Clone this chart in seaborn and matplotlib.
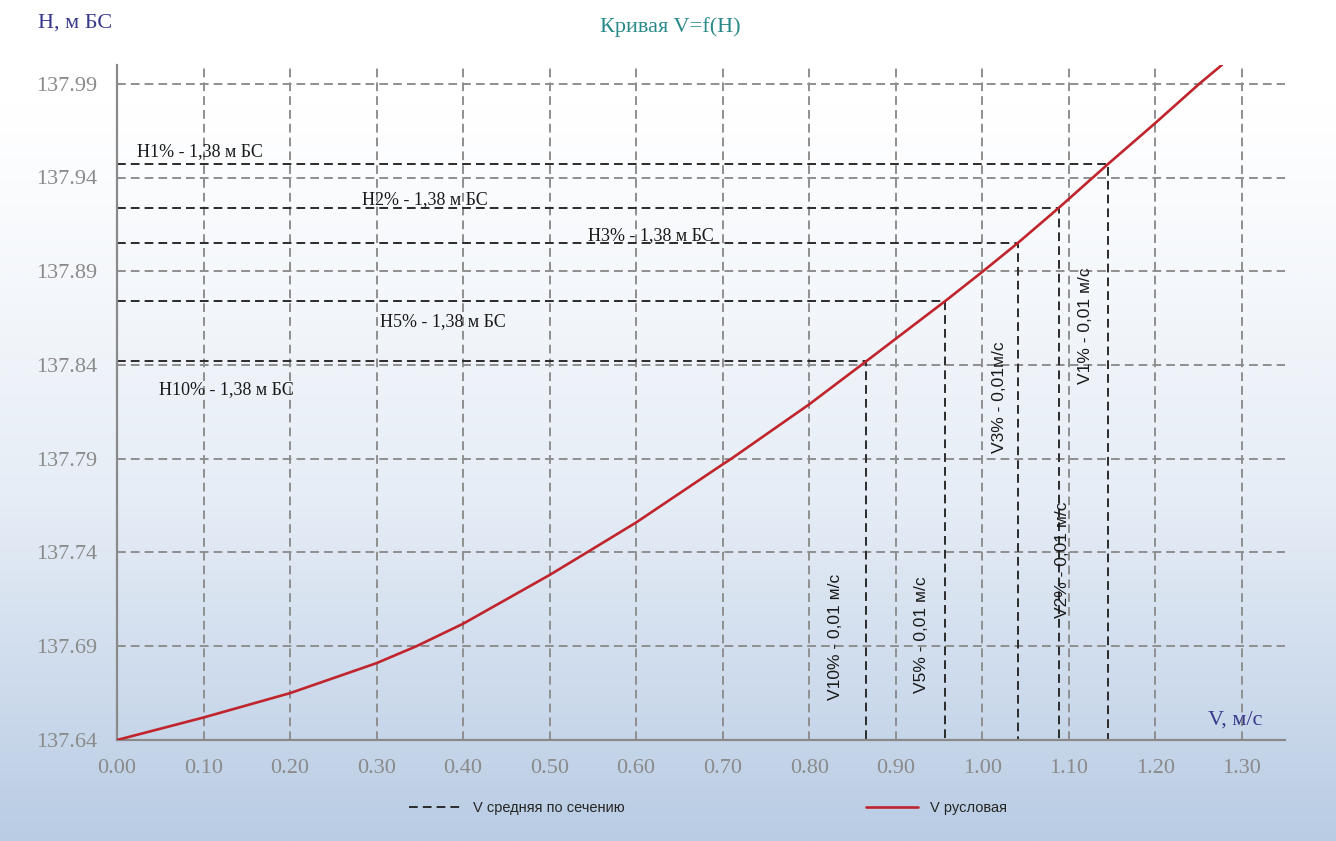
import numpy as np
import pandas as pd
import matplotlib
matplotlib.use("Agg")
import matplotlib.pyplot as plt
from matplotlib.colors import LinearSegmentedColormap
import seaborn as sns

# Rating curve: channel velocity V (m/s) against water level H (m BS)
v_channel = [0.000, 0.100, 0.200, 0.300, 0.346, 0.400, 0.500, 0.543, 0.600,
             0.700, 0.710, 0.800, 0.866, 0.957, 1.001, 1.041, 1.089, 1.145,
             1.200, 1.251, 1.277]
h_level = [137.640, 137.652, 137.665, 137.681, 137.690, 137.702, 137.728, 137.740,
           137.756, 137.787, 137.790, 137.819, 137.842, 137.874, 137.890, 137.905,
           137.924, 137.947, 137.969, 137.990, 138.000]

# Design flood levels and the matching mean velocities
probabilities = ["1%", "2%", "3%", "5%", "10%"]
h_design = [137.947, 137.924, 137.905, 137.874, 137.842]
v_design = [1.145, 1.089, 1.041, 0.957, 0.866]
h_captions = ["H1% - 1,38 м БС", "H2% - 1,38 м БС", "H3% - 1,38 м БС",
              "H5% - 1,38 м БС", "H10% - 1,38 м БС"]
v_captions = ["V1% - 0,01 м/с", "V2% - 0,01 м/с", "V3% - 0,01м/с",
              "V5% - 0,01 м/с", "V10% - 0,01 м/с"]

x_ticks = [0.00, 0.10, 0.20, 0.30, 0.40, 0.50, 0.60, 0.70, 0.80, 0.90,
           1.00, 1.10, 1.20, 1.30]
y_ticks = [137.64, 137.69, 137.74, 137.79, 137.84, 137.89, 137.94, 137.99]

# caption anchors (data coordinates)
h_cap_pos = [(0.023, 137.954), (0.283, 137.928), (0.544, 137.909),
             (0.304, 137.863), (0.048, 137.827)]
v_cap_pos = [(1.119, 137.861), (1.093, 137.736), (1.020, 137.823),
             (0.930, 137.696), (0.830, 137.695)]

sns.set_style("white")
plt.rcParams["font.family"] = ["Liberation Serif", "DejaVu Serif"]

W, H = 1336, 841
fig = plt.figure(figsize=(W / 100, H / 100), dpi=100)

# soft white-to-blue background
bg = fig.add_axes([0, 0, 1, 1], zorder=-10)
t = np.linspace(0, 1, 400)[:, None]
t = np.clip((t - 0.12) / 0.88, 0, 1) ** 1.1
cmap = LinearSegmentedColormap.from_list("bg", ["#ffffff", "#e6edf6", "#b9cce4"])
bg.imshow(t, aspect="auto", cmap=cmap, extent=[0, 1, 0, 1], vmin=0, vmax=1)
bg.set_axis_off()

ax = fig.add_axes([117 / W, 1 - 740 / H, (1285 - 117) / W, (740 - 65) / H])
ax.patch.set_alpha(0)

grid_kw = dict(color="#8f8f8f", lw=1.4, dashes=(4.5, 2.6), zorder=1)
for xv in x_ticks[1:]:
    ax.axvline(xv, **grid_kw)
for yv in y_ticks[1:]:
    ax.axhline(yv, **grid_kw)

# mean-velocity guides: from the H axis to the curve, then down to the V axis
guide_handle = None
for hv, vv in zip(h_design, v_design):
    seg = pd.DataFrame({"v": [0.0, vv, vv], "h": [hv, hv, y_ticks[0]]})
    sns.lineplot(data=seg, x="v", y="h", sort=False, estimator=None, ax=ax,
                 color="#2b2b2b", lw=1.4, zorder=2)
    ln = ax.lines[-1]
    ln.set_dashes((4.5, 2.6))
    if guide_handle is None:
        guide_handle = ln

curve = pd.DataFrame({"v": v_channel, "h": h_level})
sns.lineplot(data=curve, x="v", y="h", sort=False, estimator=None, ax=ax,
             color="#c0242c", lw=1.9, zorder=3)
curve_handle = ax.lines[-1]
curve_handle.set_solid_joinstyle("round")

ax.set_xlim(0, 1.35)
ax.set_ylim(137.64, 138.0)
ax.set_xticks(x_ticks)
ax.set_xticklabels([f"{v:.2f}" for v in x_ticks])
ax.set_yticks(y_ticks)
ax.set_yticklabels([f"{v:.2f}" for v in y_ticks])
ax.tick_params(length=0, labelsize=16, labelcolor="#8a8a8a", pad=14)
ax.set_xlabel("")
ax.set_ylabel("")
for side in ["top", "right"]:
    ax.spines[side].set_visible(False)
for side in ["left", "bottom"]:
    ax.spines[side].set_color("#8a8a8a")
    ax.spines[side].set_linewidth(1.6)

for txt, (x, y) in zip(h_captions, h_cap_pos):
    ax.text(x, y, txt, fontsize=13, color="#1a1a1a", ha="left", va="center", zorder=4)
for txt, (x, y) in zip(v_captions, v_cap_pos):
    ax.text(x, y, txt, fontsize=12.5, color="#1a1a1a", rotation=90,
            ha="center", va="center", family="Liberation Sans", zorder=4)

fig.text(38 / W, 1 - 23 / H, "H, м БС", fontsize=16, color="#3a3a8c",
         ha="left", va="center")
fig.text(670 / W, 1 - 27 / H, "Кривая V=f(H)", fontsize=16, color="#2a8a8a",
         ha="center", va="center")
fig.text(1235 / W, 1 - 720 / H, "V, м/с", fontsize=16, color="#3a3a8c",
         ha="center", va="center")

fig.legend([guide_handle, curve_handle], ["V средняя по сечению", "V русловая"],
           loc="center", bbox_to_anchor=(708 / W, 1 - 808 / H), ncol=2,
           frameon=False, handlelength=3.6, columnspacing=16.5,
           prop={"family": "Liberation Sans", "size": 10.5})

fig.savefig("out.png", dpi=100)
